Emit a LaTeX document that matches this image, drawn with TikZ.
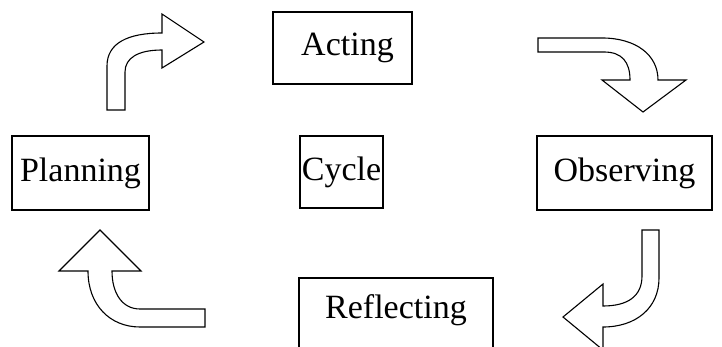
\documentclass[tikz,border=0pt]{standalone}
\usepackage{fontspec}
\setmainfont{Liberation Serif}
\tikzset{
  stagebox/.style={draw=black, line width=1.1pt, fill=white, inner sep=0pt,
    font=\fontsize{34}{40}\selectfont, text=black},
  blockarrow/.style={draw=black, line width=1.1pt, fill=white, line join=miter}
}
\begin{document}
\begin{tikzpicture}[x=1pt,y=-1pt]
\useasboundingbox (0,0) rectangle (722,347);
\clip (0,0) rectangle (722,347);
\fill[white] (0,0) rectangle (722,347);
% boxes
\node[stagebox, minimum width=139pt, minimum height=72pt] (acting) at (342.5,48) {\hspace*{10pt}Acting};
\node[stagebox, minimum width=137pt, minimum height=74pt] (planning) at (80.5,173) {Planning};
\node[stagebox, minimum width=83pt, minimum height=72pt] (cycle) at (341.5,172) {Cycle};
\node[stagebox, minimum width=175pt, minimum height=74pt] (observing) at (624.5,173) {Observing};
\node[stagebox, minimum width=194pt, minimum height=72pt, text depth=14pt] (reflecting) at (396,314) {Reflecting};
% curved block arrows
% top-left: up then right
\draw[blockarrow] (107,110) -- (107,66) .. controls (107,43) and (128,33) .. (162,33)
  -- (162,14) -- (204,42) -- (162,68) -- (162,50)
  .. controls (138,50) and (125,58) .. (125,72) -- (125,110) -- cycle;
% top-right: right then down
\draw[blockarrow] (538,38) -- (602,38) .. controls (636,38) and (658,55) .. (658,80)
  -- (686,80) -- (643,112) -- (602,80) -- (630,80)
  .. controls (630,62) and (622,52) .. (604,52) -- (538,52) -- cycle;
% bottom-right: down then left
\draw[blockarrow] (642,230) -- (659,230) -- (659,278) .. controls (659,308) and (636,327) .. (603,327)
  -- (603,350) -- (563,317) -- (603,284) -- (603,306)
  .. controls (628,306) and (642,296) .. (642,276) -- cycle;
% bottom-left: left then up
\draw[blockarrow] (205,309) -- (140,309) .. controls (122,309) and (112,293) .. (112,271)
  -- (141,271) -- (100,230) -- (59,271) -- (88,271)
  .. controls (88,305) and (110,327) .. (140,327) -- (205,327) -- cycle;
\end{tikzpicture}
\end{document}
